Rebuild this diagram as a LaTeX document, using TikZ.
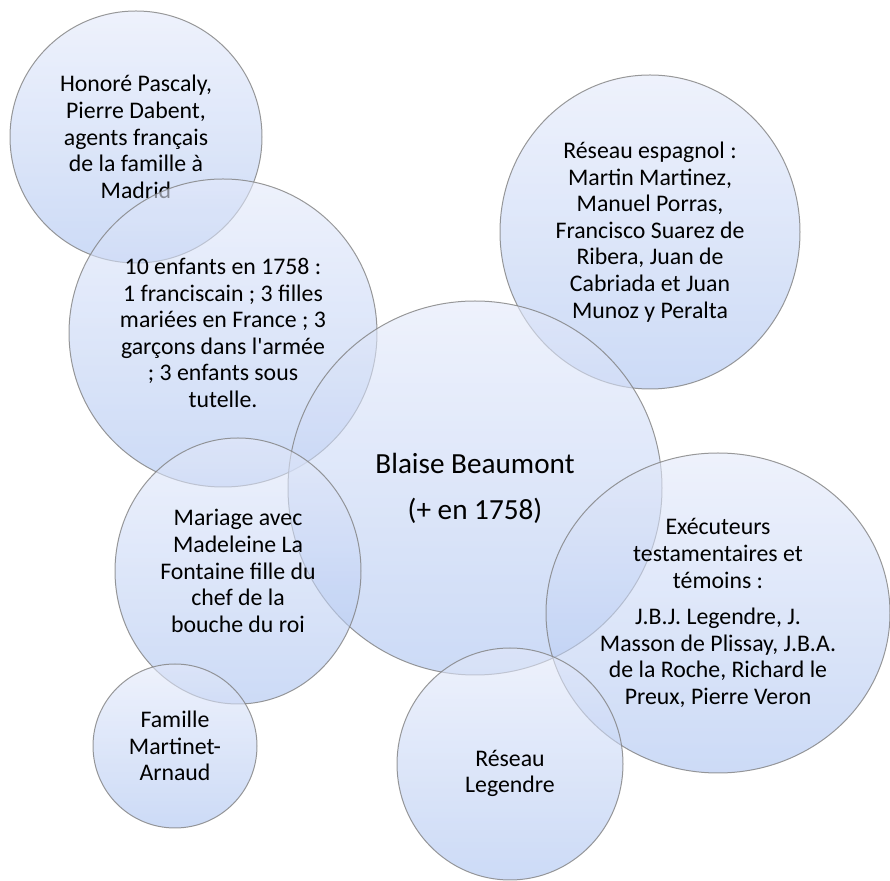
\documentclass[tikz,border=0pt]{standalone}
\usepackage{fontspec}
\setmainfont{Carlito}
\usetikzlibrary{shapes.geometric}
\definecolor{bubbletop}{RGB}{227,233,250}
\definecolor{bubblebot}{RGB}{170,194,240}
\begin{document}
\begin{tikzpicture}[x=0.5pt,y=-0.5pt,
    bubble/.style={circle,draw=black!50,draw opacity=0.8,line width=0.5pt,
      top color=bubbletop,bottom color=bubblebot,fill opacity=0.6,text opacity=1,
      align=center,inner sep=0pt,font=\fontsize{11.9}{13.3}\selectfont},
    oval/.style={bubble,ellipse}]
  \useasboundingbox (0,0) rectangle (890,881);
  \node[bubble,minimum size=126pt] (agents) at (136,137)
    {Honoré Pascaly,\\Pierre Dabent,\\agents français\\de la famille à\\Madrid};
  \node[bubble,minimum size=154pt] (enfants) at (223,333)
    {10 enfants en 1758 :\\1 franciscain ; 3 filles\\mariées en France ; 3\\garçons dans l\textquotesingle armée\\; 3 enfants sous\\tutelle.};
  \node[oval,minimum width=150pt,minimum height=157pt] (espagnol) at (650,232)
    {Réseau espagnol :\\Martin Martinez,\\Manuel Porras,\\Francisco Suarez de\\Ribera, Juan de\\Cabriada et Juan\\Munoz y Peralta};
  \node[bubble,minimum size=187pt,font=\fontsize{14.6}{16}\selectfont] (blaise) at (475,488)
    {Blaise Beaumont\\[7pt](+ en 1758)};
  \node[oval,minimum width=123pt,minimum height=133pt] (mariage) at (238,571)
    {Mariage avec\\Madeleine La\\Fontaine fille du\\chef de la\\bouche du roi};
  \node[bubble,minimum size=82pt] (martinet) at (175,746)
    {Famille\\Martinet-\\Arnaud};
  \node[oval,minimum width=172pt,minimum height=160pt] (executeurs) at (718,613)
    {Exécuteurs\\testamentaires et\\témoins :\\[5pt]J.B.J. Legendre, J.\\Masson de Plissay, J.B.A.\\de la Roche, Richard le\\Preux, Pierre Veron};
  \node[oval,minimum width=113pt,minimum height=116pt,text height=31pt] (legendre) at (510,764)
    {Réseau\\Legendre};
\end{tikzpicture}
\end{document}
